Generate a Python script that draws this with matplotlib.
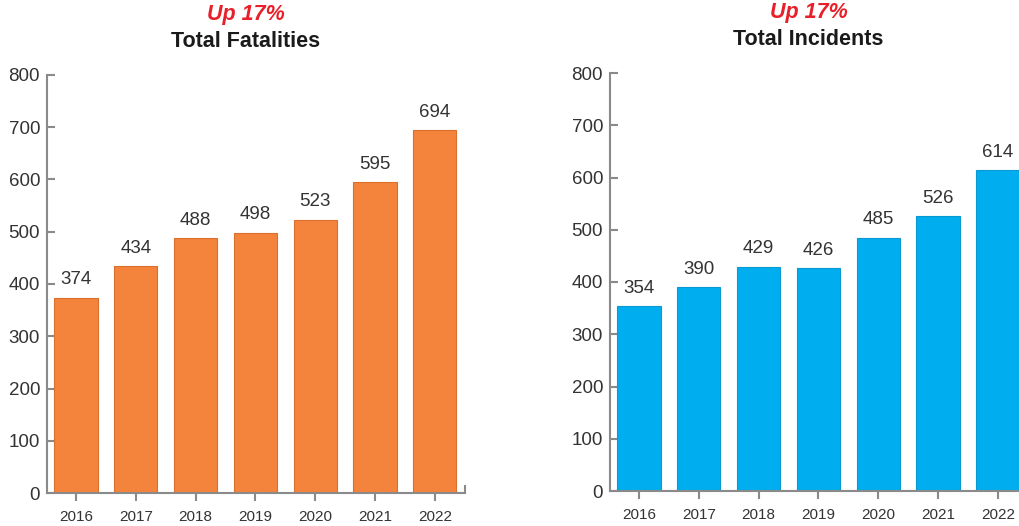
import matplotlib.pyplot as plt

plt.rcParams['font.family'] = ['Liberation Sans', 'DejaVu Sans']

years = ['2016', '2017', '2018', '2019', '2020', '2021', '2022']
fatalities = [374, 434, 488, 498, 523, 595, 694]
incidents = [354, 390, 429, 426, 485, 526, 614]
y_ticks = [0, 100, 200, 300, 400, 500, 600, 700, 800]

AXIS_GRAY = '#8a8a8a'
TEXT_GRAY = '#333333'


def draw_panel(ax, values, color, edge, title):
    x = list(range(len(years)))
    ax.bar(x, values, width=0.72, color=color, edgecolor=edge, linewidth=0.8, zorder=2)
    for xi, v in zip(x, values):
        ax.text(xi, v + 18, str(v), ha='center', va='bottom',
                fontsize=13.5, color=TEXT_GRAY)
    ax.set_xlim(-0.485, 6.505)
    ax.set_ylim(0, 800)
    ax.set_yticks(y_ticks)
    ax.set_xticks(x)
    ax.set_xticklabels(years)
    for s in ['top', 'right']:
        ax.spines[s].set_visible(False)
    for s in ['left', 'bottom']:
        ax.spines[s].set_color(AXIS_GRAY)
        ax.spines[s].set_linewidth(1.5)
    ax.tick_params(axis='y', direction='in', length=6, width=1.5, color=AXIS_GRAY,
                   labelsize=13.5, labelcolor=TEXT_GRAY, pad=5)
    ax.tick_params(axis='x', direction='out', length=6, width=1.5, color=AXIS_GRAY,
                   labelsize=11, labelcolor=TEXT_GRAY, pad=6)
    # little upturn at the right end of the base line
    ax.plot([1, 1], [0, 0.018], transform=ax.transAxes, color=AXIS_GRAY,
            linewidth=1.5, clip_on=False, solid_capstyle='butt')
    ax.text(0.475, 1.144, 'Up 17%', transform=ax.transAxes, ha='center', va='center',
            fontsize=15.5, fontweight='bold', fontstyle='italic', color='#e8202a')
    ax.text(0.475, 1.079, title, transform=ax.transAxes, ha='center', va='center',
            fontsize=15.5, fontweight='bold', color='#1a1a1a')


fig = plt.figure(figsize=(10.2, 5.26), dpi=100)
ax1 = fig.add_axes([47 / 1020, 33 / 526, 418 / 1020, 418 / 526])
ax2 = fig.add_axes([610 / 1020, 35 / 526, 418 / 1020, 418 / 526])

draw_panel(ax1, fatalities, '#f4843c', '#d9702e', 'Total Fatalities')
draw_panel(ax2, incidents, '#00aeef', '#0a98d0', 'Total Incidents')

fig.savefig('out.png', dpi=100)
